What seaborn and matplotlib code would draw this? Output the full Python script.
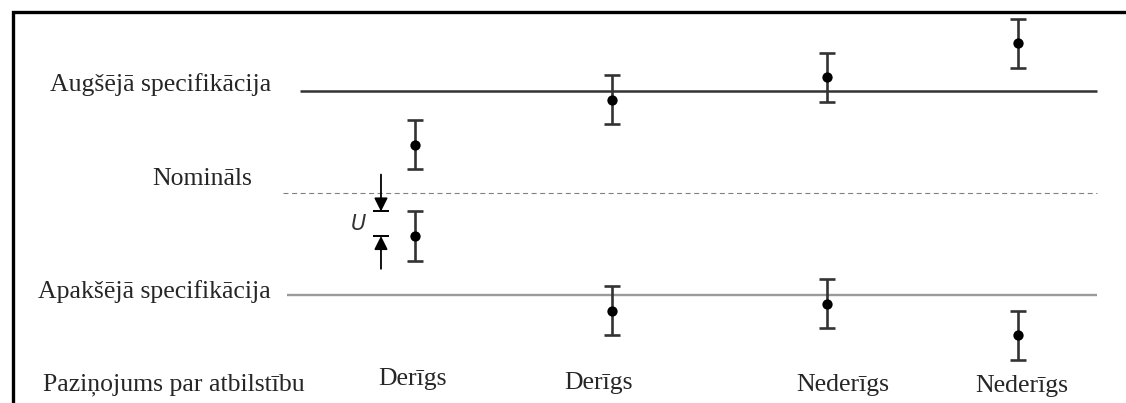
import numpy as np
import pandas as pd
import matplotlib
matplotlib.use('Agg')
import matplotlib.pyplot as plt
from matplotlib.patches import Rectangle
import seaborn as sns

# data, in units of the specification half-width (nominal = 0, limits = +/-1)
upper_spec = 1.0
nominal = 0.0
lower_spec = -1.0
U = 0.24

case_x = [1.0, 2.0, 3.09, 4.06]
upper_results = [0.47, 0.91, 1.13, 1.46]
lower_results = [-0.42, -1.15, -1.08, -1.39]
verdicts = ['Derīgs', 'Derīgs', 'Nederīgs', 'Nederīgs']
row_labels = ['Augšējā specifikācija', 'Nomināls', 'Apakšējā specifikācija']
verdict_title = 'Paziņojums par atbilstību'

df = pd.DataFrame({
    'x': case_x + case_x,
    'value': upper_results + lower_results,
})

sns.set_theme(style='white')
plt.rcParams['font.family'] = ['Liberation Serif', 'DejaVu Serif']

fig = plt.figure(figsize=(11.26, 4.03), dpi=100)
ax = fig.add_axes([0, 0, 1, 1])
ax.set_xlim(-1.107, 4.609)
ax.set_ylim(-2.049, 1.883)
ax.axis('off')

# frame (right and bottom edges fall outside the picture)
ax.add_patch(Rectangle((12.5 / 1126, -0.5), 2, 0.97 + 0.5, transform=ax.transAxes,
                       fill=False, lw=2.4, edgecolor='black', clip_on=True))

# specification lines
ax.hlines(upper_spec, 0.416, 4.462, color='#333333', lw=1.8)
ax.hlines(lower_spec, 0.35, 4.462, color='#9a9a9a', lw=1.7)
ax.hlines(nominal, 0.33, 4.462, color='#808080', lw=0.8, linestyle=(0, (4.5, 3.2)))

# results with uncertainty
ax.errorbar(df['x'], df['value'], yerr=U, fmt='none', ecolor='#333333',
            elinewidth=1.9, capsize=6, capthick=1.9)
sns.scatterplot(data=df, x='x', y='value', color='black', s=55, linewidth=0,
                ax=ax, legend=False, zorder=5)

# U dimension marker next to the first lower result
ux = 0.827
m = lower_results[0]
ax.hlines([m + U, m], ux - 0.04, ux + 0.04, color='black', lw=1.4)
ax.annotate('', xy=(ux, m + U), xytext=(ux, m + U + 0.36),
            arrowprops=dict(arrowstyle='-|>', color='black', lw=1.3, mutation_scale=20,
                            shrinkA=0, shrinkB=0))
ax.annotate('', xy=(ux, m), xytext=(ux, m - 0.32),
            arrowprops=dict(arrowstyle='-|>', color='black', lw=1.3, mutation_scale=20,
                            shrinkA=0, shrinkB=0))
ax.text(0.711, m + U / 2, 'U', family=['DejaVu Sans'], style='italic', fontsize=15,
        ha='center', va='center', color='#333333')

# row labels
fs = 18.5
ax.text(0.269, 0.995, row_labels[0], fontsize=fs, ha='right', va='baseline')
ax.text(0.173, 0.078, row_labels[1], fontsize=fs, ha='right', va='baseline')
ax.text(0.269, -1.024, row_labels[2], fontsize=fs, ha='right', va='baseline')
ax.text(-0.888, -1.922, verdict_title, fontsize=fs, ha='left', va='baseline')

# verdicts under each case
verdict_x = [0.985, 1.929, 3.173, 4.081]
verdict_y = [-1.873, -1.912, -1.932, -1.941]
for vx, vy, v in zip(verdict_x, verdict_y, verdicts):
    ax.text(vx, vy, v, fontsize=fs, ha='center', va='baseline')

plt.savefig('out.png', dpi=100)
plt.close()
